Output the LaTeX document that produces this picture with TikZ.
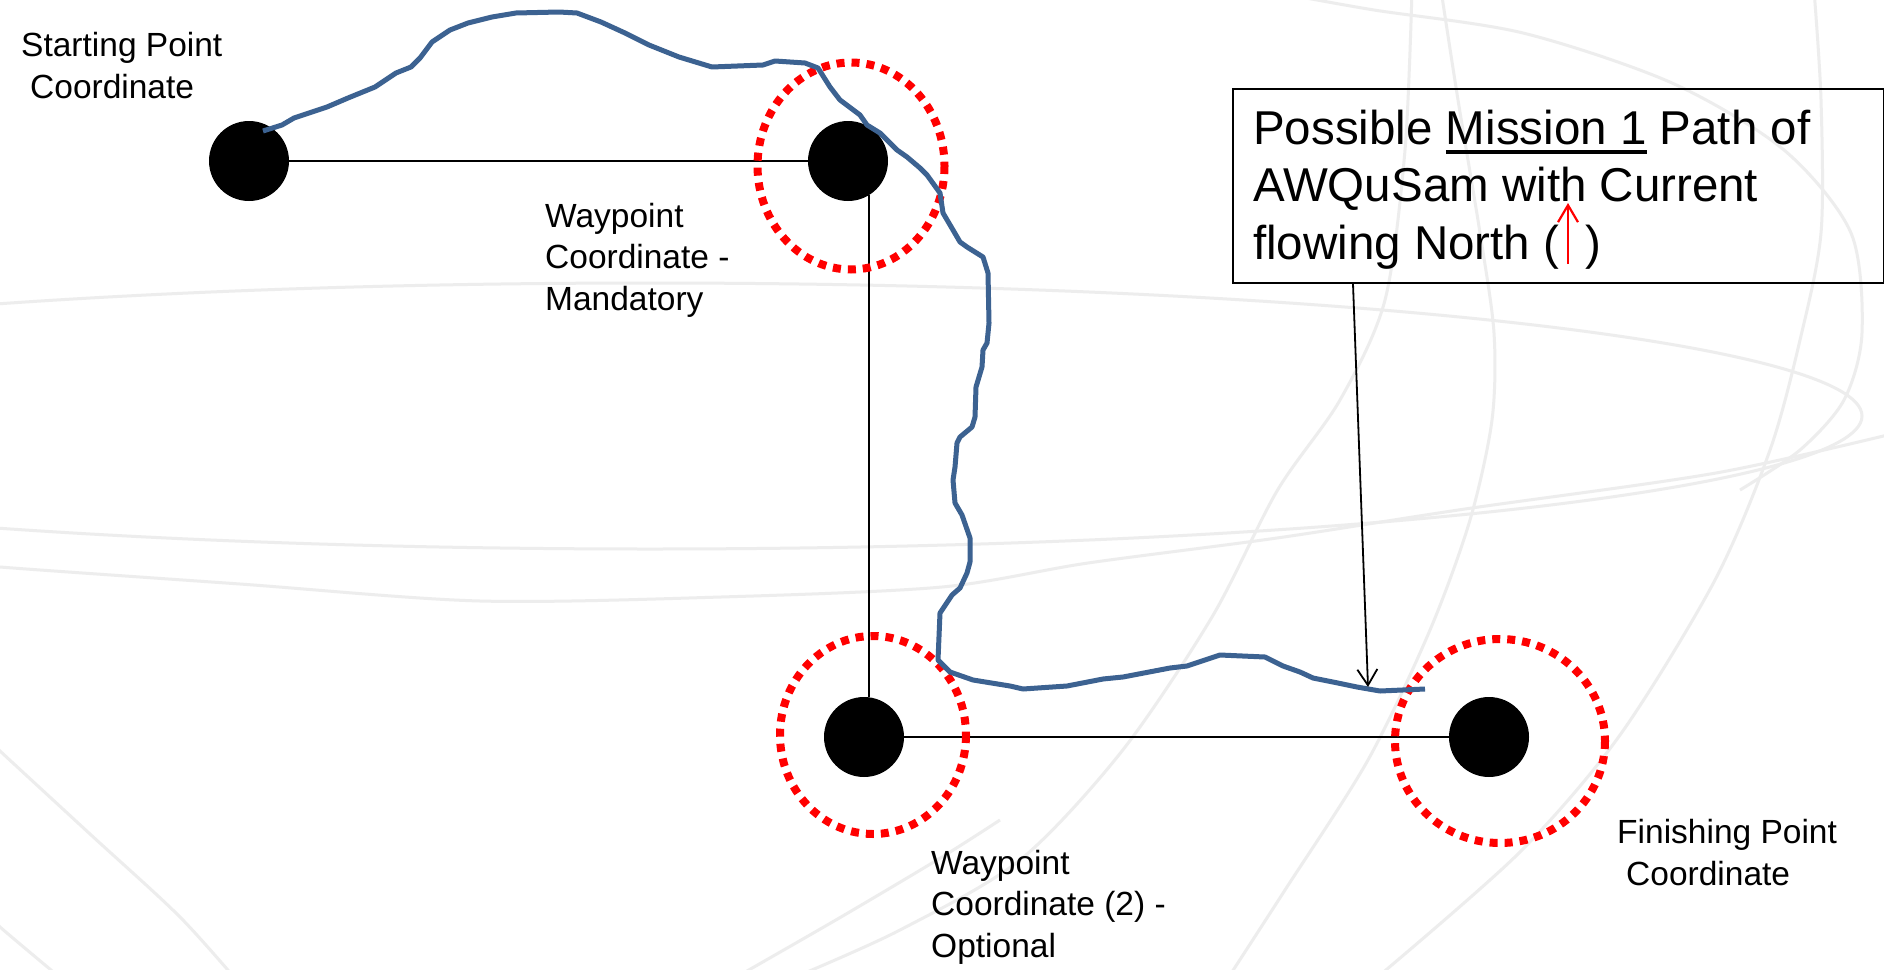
\documentclass[tikz,border=0pt]{standalone}
\usepackage{fontspec}
\setmainfont{Liberation Sans}
\usetikzlibrary{arrows.meta,shapes.geometric,calc}

\definecolor{pathblue}{HTML}{3C6291}
\definecolor{globegray}{HTML}{EDEDED}

% underline with a chosen offset and thickness
\newlength\ulwidth
\newcommand{\missionul}[1]{\settowidth{\ulwidth}{#1}\rlap{\rule[-9.5pt]{\ulwidth}{3.5pt}}#1}

\begin{document}
\begin{tikzpicture}[x=1pt, y=-1pt,
  dot/.style={circle, fill=black, inner sep=0pt, minimum size=80pt},
  conn/.style={draw=black, line width=2pt},
  ring/.style={draw=red, line width=8pt, dash pattern=on 8pt off 7pt},
  route/.style={draw=pathblue, line width=5pt, line join=round},
  lbl/.style={anchor=base west, inner sep=0pt, align=left, font=\fontsize{33.5}{41.5}\selectfont},
  callbox/.style={draw=black, line width=2pt, inner sep=0pt, minimum width=651pt, minimum height=194pt, anchor=north west},
  calltext/.style={anchor=base west, inner sep=0pt, align=left, font=\fontsize{47.5}{57.5}\selectfont},
  pointer/.style={draw=black, line width=1.8pt, -{Straight Barb[length=16pt,width=20pt]}},
  flowarrow/.style={draw=red, line width=2.2pt, -{Straight Barb[length=17pt,width=20pt]}},
  wm/.style={draw=globegray, line width=3pt}
]
\fill[white] (0,0) rectangle (1884,969);
\useasboundingbox (0,0) rectangle (1884,969);

% faint globe watermark
\begin{scope}
  \clip (0,0) rectangle (1884,969);
  \draw[wm] (650,416) ellipse [x radius=1212, y radius=133];
  \draw[wm] plot[smooth] coordinates {(-20,563) (0,567) (240,584) (480,601) (721,597) (942,587) (1088,563) (1277,538) (1465,509) (1716,473) (1900,432)};
  \draw[wm] plot[smooth] coordinates {(-20,732) (0,751) (90,834) (180,917) (245,990)};
  \draw[wm] plot[smooth] coordinates {(-10,915) (0,927) (75,990)};
  \draw[wm] plot[smooth] coordinates {(740,975) (841,917) (942,857) (1000,820)};
  \draw[wm] plot[smooth] coordinates {(1412,-10) (1405,150) (1385,300) (1340,400) (1277,491) (1212,617) (1122,751) (1020,860) (900,930) (800,975)};
  \draw[wm] plot[smooth] coordinates {(1441,-10) (1458,100) (1480,233) (1494,333) (1492,420) (1470,520) (1430,630) (1368,760) (1285,890) (1230,975)};
  \draw[wm] plot[smooth] coordinates {(1814,-10) (1821,100) (1821,233) (1800,340) (1770,450) (1715,580) (1620,735) (1520,852) (1380,975)};
  \draw[wm] plot[smooth] coordinates {(1290,-5) (1374,10) (1523,33) (1672,83) (1784,150) (1851,233) (1862,333) (1844,400) (1800,450) (1740,490)};
\end{scope}

% coordinates of the route
\node[dot] (start)  at (249,161) {};
\node[dot] (wp1)    at (848,161) {};
\node[dot] (wp2)    at (864,737) {};
\node[dot] (finish) at (1489,737) {};

% straight legs between the coordinates
\draw[conn] (start) -- (wp1);
\draw[conn] (wp1.-58) -- (wp1.-58 |- wp2.north);
\draw[conn] (wp2) -- (finish);

% tolerance rings
\draw[ring] ($(wp1)+(3,5)$) ellipse [x radius=93.5, y radius=103.5];
\draw[ring] ($(wp2)+(9,-2)$) ellipse [x radius=93, y radius=99];
\draw[ring] ($(finish)+(11,4)$) ellipse [x radius=105, y radius=102];

% drifting path of the vehicle
\draw[route] plot coordinates {(263,131) (282,125) (294,118) (312,112) (327,107) (348,98) (375,87) (396,73) (411,67) (420,58) (432,42) (450,30) (468,23) (492,17) (516,13) (559,12) (577,13) (601,22) (625,33) (649,45) (679,57) (712,67) (763,65) (775,61) (805,63) (818,68) (830,87) (840,100) (860,115) (867,125) (880,133) (897,150) (907,157) (920,168) (927,175) (940,193) (943,213) (953,230) (960,242) (967,247) (983,257) (988,273) (989,323) (987,343) (983,350) (982,367) (976,387) (975,417) (972,427) (960,437) (957,443) (955,467) (953,480) (955,503) (962,515) (970,538) (970,562) (967,573) (960,588) (952,595) (940,613) (938,660) (950,672) (973,680) (1010,686) (1023,689) (1067,686) (1103,679) (1123,677) (1170,668) (1187,666) (1220,655) (1265,657) (1283,666) (1300,672) (1313,678) (1333,682) (1357,687) (1380,691) (1425,689)};

% labels (base = baseline of the last line)
\node[lbl] (startlbl)  at (21,98)   {Starting Point\\\hspace*{9pt}Coordinate};
\node[lbl] (wp1lbl)    at (545,310) {Waypoint\\Coordinate -\\Mandatory};
\node[lbl] (wp2lbl)    at (931,957) {Waypoint\\Coordinate (2) -\\Optional};
\node[lbl] (finishlbl) at (1617,885) {Finishing Point\\\hspace*{9pt}Coordinate};

% callout
\node[callbox] (callout) at (1232,88) {};
\node[calltext] (calltext) at (1253,259) {Possible \missionul{Mission 1} Path of\\AWQuSam with Current\\flowing North (\hspace{0.55em})};
\coordinate (hit) at (1368,687);
\draw[pointer] ($(callout.south west)+(121,0)$) -- (hit);

% current direction glyph
\coordinate (flowtail) at (1568,264);
\coordinate (flowhead) at (1568,203);
\draw[flowarrow] (flowtail) -- (flowhead);
\end{tikzpicture}
\end{document}
